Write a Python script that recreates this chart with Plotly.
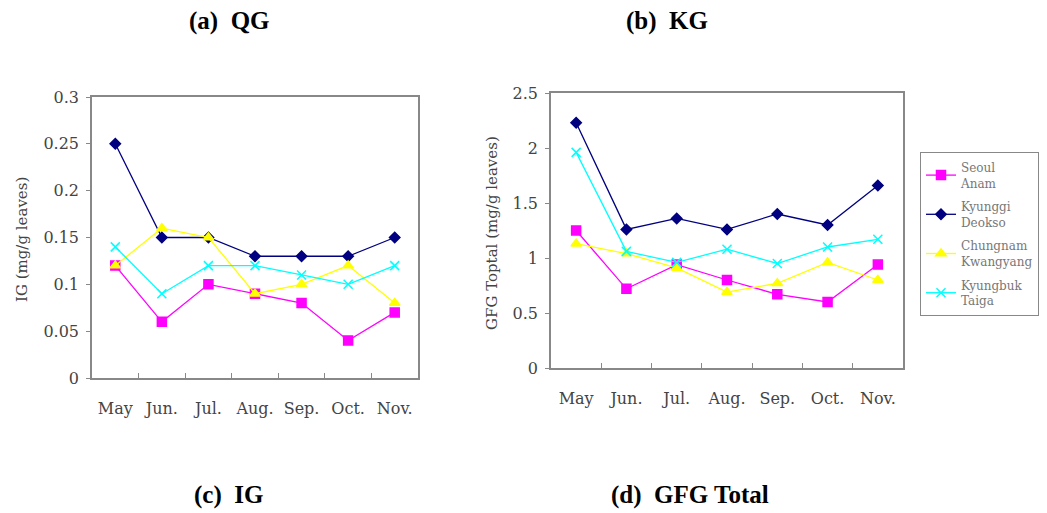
import plotly.graph_objects as go

months = ["May", "Jun.", "Jul.", "Aug.", "Sep.", "Oct.", "Nov."]
series_names = ["Seoul<br>Anam", "Kyunggi<br>Deokso", "Chungnam<br>Kwangyang", "Kyungbuk<br>Taiga"]

ig_seoul = [0.12, 0.06, 0.10, 0.09, 0.08, 0.04, 0.07]
ig_kyunggi = [0.25, 0.15, 0.15, 0.13, 0.13, 0.13, 0.15]
ig_chungnam = [0.12, 0.16, 0.15, 0.09, 0.10, 0.12, 0.08]
ig_kyungbuk = [0.14, 0.09, 0.12, 0.12, 0.11, 0.10, 0.12]

gfg_seoul = [1.25, 0.72, 0.94, 0.80, 0.67, 0.60, 0.94]
gfg_kyunggi = [2.23, 1.26, 1.36, 1.26, 1.40, 1.30, 1.66]
gfg_chungnam = [1.13, 1.04, 0.91, 0.69, 0.77, 0.96, 0.80]
gfg_kyungbuk = [1.96, 1.06, 0.96, 1.08, 0.95, 1.10, 1.17]

colors = ["#FF00FF", "#000080", "#FFFF00", "#00FFFF"]
symbols = ["square", "diamond", "triangle-up", "x-thin"]
sizes = [9, 8, 9, 9]

W, H = 1047, 513
OFF = 8  # page body margin


def px(x):
    return (x - OFF) / W


def py(y):
    return 1 - (y - OFF) / H


fig = go.Figure()

ig_data = [ig_seoul, ig_kyunggi, ig_chungnam, ig_kyungbuk]
gfg_data = [gfg_seoul, gfg_kyunggi, gfg_chungnam, gfg_kyungbuk]

for i in range(4):
    mk = dict(symbol=symbols[i], size=sizes[i], color=colors[i],
              line=dict(width=1.5, color=colors[i]))
    fig.add_trace(go.Scatter(x=months, y=ig_data[i], mode="lines+markers",
                             line=dict(color=colors[i], width=1.3), marker=mk,
                             name=series_names[i], showlegend=False,
                             legendgroup="g%d" % i,
                             xaxis="x", yaxis="y"))
for i in range(4):
    mk = dict(symbol=symbols[i], size=sizes[i], color=colors[i],
              line=dict(width=1.5, color=colors[i]))
    fig.add_trace(go.Scatter(x=months, y=gfg_data[i], mode="lines+markers",
                             line=dict(color=colors[i], width=1.3), marker=mk,
                             name=series_names[i], showlegend=True,
                             legendgroup="g%d" % i,
                             xaxis="x2", yaxis="y2"))

serif = "DejaVu Serif, Liberation Serif, serif"
tickfont = dict(family=serif, size=16, color="#444")


def xax(domain, anchor):
    return dict(domain=domain, anchor=anchor, type="category", range=[-0.5, 6.5],
                showline=True, linecolor="#888", linewidth=1.5, mirror=True,
                ticks="inside", tickson="boundaries", ticklen=5, tickcolor="#888",
                showgrid=False, zeroline=False, tickfont=tickfont, tickangle=0,
                ticklabelstandoff=15, fixedrange=True, automargin=False)


def yax(domain, anchor, rng, dt):
    return dict(domain=domain, anchor=anchor, range=rng, dtick=dt,
                showline=True, linecolor="#888", linewidth=1.5, mirror=True,
                ticks="outside", ticklen=4, tickcolor="#888",
                showgrid=False, zeroline=False, tickfont=tickfont, fixedrange=True,
                ticklabelstandoff=4, automargin=False)


fig.update_layout(
    template="none",
    width=W, height=H,
    margin=dict(l=0, r=0, t=0, b=0, pad=0, autoexpand=False),
    paper_bgcolor="white", plot_bgcolor="white",
    xaxis=xax([px(92), px(418)], "y"),
    yaxis=yax([py(378), py(97)], "x", [0, 0.3], 0.05),
    xaxis2=xax([px(551), px(903)], "y2"),
    yaxis2=yax([py(368), py(93)], "x2", [0, 2.5], 0.5),
    legend=dict(x=px(920), y=py(152), xanchor="left", yanchor="top",
                bordercolor="#888", borderwidth=1, bgcolor="white",
                font=dict(family=serif, size=12, color="#777"),
                tracegroupgap=5, itemwidth=30),
    showlegend=True,
)

title_font = dict(family="Liberation Serif, DejaVu Serif, serif", size=25, color="black")
annos = [
    ("<b>(a)  QG</b>", 229, 21),
    ("<b>(b)  KG</b>", 667, 21),
    ("<b>(c)  IG</b>", 228, 495),
    ("<b>(d)  GFG Total</b>", 690, 495),
]
for txt, x, y in annos:
    fig.add_annotation(text=txt, x=px(x), y=py(y), xref="paper", yref="paper",
                       showarrow=False, font=title_font, xanchor="center", yanchor="middle")

axis_title_font = dict(family=serif, size=15, color="#444")
fig.add_annotation(text="IG (mg/g leaves)", x=px(22), y=py(240), xref="paper", yref="paper",
                   showarrow=False, textangle=-90, font=axis_title_font,
                   xanchor="center", yanchor="middle")
fig.add_annotation(text="GFG Toptal (mg/g leaves)", x=px(492), y=py(233), xref="paper", yref="paper",
                   showarrow=False, textangle=-90, font=axis_title_font,
                   xanchor="center", yanchor="middle")

fig.write_html("out.html")
